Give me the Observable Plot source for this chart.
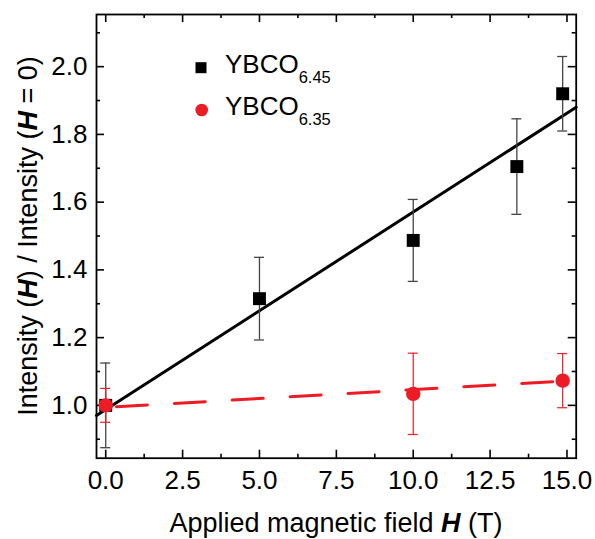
<!DOCTYPE html>
<html><head><meta charset="utf-8">
<script src="https://cdn.jsdelivr.net/npm/d3@7"></script>
<script src="https://cdn.jsdelivr.net/npm/@observablehq/plot@0.6"></script>
<style>body{margin:0;background:#fff} #chart{width:595px;height:539px}</style>
</head><body><div id="chart"></div>
<script>
// YBCO6.45 (black squares)
const field645 = [0, 5, 10, 13.37, 14.86];
const ratio645 = [1.0, 1.315, 1.487, 1.705, 1.920];
const err645 = [0.125, 0.122, 0.121, 0.141, 0.11];
// YBCO6.35 (red circles)
const field635 = [0, 10, 14.86];
const ratio635 = [1.0, 1.034, 1.073];
const err635 = [0.05, 0.12, 0.08];
// linear fits
const fit645X = [-0.3, 15.3];
const fit645Y = [0.97, 1.88];
const fit635X = [0, 15.3];
const fit635Y = [0.994, 1.074];
// ticks
const xTicks = [0, 2.5, 5, 7.5, 10, 12.5, 15];
const xMinor = [1.25, 3.75, 6.25, 8.75, 11.25, 13.75];
const yTicks = [1.0, 1.2, 1.4, 1.6, 1.8, 2.0];
const yMinor = [0.9, 1.1, 1.3, 1.5, 1.7, 1.9, 2.1];
const xDomain = [-0.3, 15.3];
const yDomain = [0.844, 2.154];
const seriesNames = ["YBCO", "YBCO"];
const seriesSubs = ["6.45", "6.35"];

const RED = "#ED1C24";
const FONT = "'Liberation Sans', Arial, sans-serif";

const d645 = field645.map((x, i) => ({x, y: ratio645[i], e: err645[i]}));
const d635 = field635.map((x, i) => ({x, y: ratio635[i], e: err635[i]}));
const f645 = fit645X.map((x, i) => ({x, y: fit645Y[i]}));
const f635 = fit635X.map((x, i) => ({x, y: fit635Y[i]}));

function tickSet(xs, ys, len) {
  const o = {stroke: "black", strokeWidth: 1.6};
  return [
    Plot.ruleX(xs, {x: d => d, y1: yDomain[0], y2: yDomain[0], insetTop: -len, ...o}),
    Plot.ruleX(xs, {x: d => d, y1: yDomain[1], y2: yDomain[1], insetBottom: -len, ...o}),
    Plot.ruleY(ys, {y: d => d, x1: xDomain[0], x2: xDomain[0], insetRight: -len, ...o}),
    Plot.ruleY(ys, {y: d => d, x1: xDomain[1], x2: xDomain[1], insetLeft: -len, ...o})
  ];
}

function errorBars(data, color, width) {
  return [
    Plot.ruleX(data, {x: "x", y1: d => d.y - d.e, y2: d => d.y + d.e, stroke: color, strokeWidth: width}),
    Plot.ruleY(data, {y: d => d.y + d.e, x1: "x", x2: "x", insetLeft: -5, insetRight: -5, stroke: color, strokeWidth: width}),
    Plot.ruleY(data, {y: d => d.y - d.e, x1: "x", x2: "x", insetLeft: -5, insetRight: -5, stroke: color, strokeWidth: width})
  ];
}

const plot = Plot.plot({
  width: 595, height: 539,
  marginLeft: 96, marginRight: 19.3, marginTop: 14, marginBottom: 81.3,
  style: {fontFamily: FONT, fontSize: "26px", background: "white", color: "black"},
  x: {domain: xDomain},
  y: {domain: yDomain},
  marks: [
    Plot.axisX({ticks: xTicks, tickSize: 0, tickPadding: 12, fontSize: 26, tickFormat: d3.format(".1f"), label: null}),
    Plot.axisY({ticks: yTicks, tickSize: 0, tickPadding: 9, fontSize: 26, tickFormat: d3.format(".1f"), label: null}),
    ...tickSet(xTicks, yTicks, 8),
    ...tickSet(xMinor, yMinor, 4),
    Plot.line(f645, {x: "x", y: "y", stroke: "black", strokeWidth: 3}),
    Plot.line(f635, {x: "x", y: "y", stroke: RED, strokeWidth: 3, strokeDasharray: "31,27", strokeDashoffset: -10.7}),
    ...errorBars(d645, "#444", 1.3),
    ...errorBars(d635, RED, 1.2),
    Plot.dot(d645, {x: "x", y: "y", symbol: "square", r: 7.3, fill: "black", stroke: null}),
    Plot.dot(d635, {x: "x", y: "y", r: 7.2, fill: RED, stroke: null}),
    Plot.frame({stroke: "black", strokeWidth: 1.8})
  ]
});

const svg = d3.select(plot);
// legend
const lg = svg.append("g").attr("font-family", FONT).attr("fill", "black").attr("text-anchor", "start");
lg.append("rect").attr("x", 201 - 5.5).attr("y", 67.7 - 5.5).attr("width", 11).attr("height", 11).attr("fill", "black");
lg.append("circle").attr("cx", 201.7).attr("cy", 110).attr("r", 6.3).attr("fill", RED);
[73.3, 115].forEach((yb, i) => {
  const t = lg.append("text").attr("x", 225).attr("y", yb).attr("font-size", 26).text(seriesNames[i]);
  t.append("tspan").attr("font-size", 16.5).attr("dy", 10).text(seriesSubs[i]);
});
// axis titles
const yt = svg.append("text").attr("font-family", FONT).attr("font-size", 27).attr("text-anchor", "middle")
  .attr("transform", "translate(37,236) rotate(-90)");
yt.append("tspan").text("Intensity (");
yt.append("tspan").attr("font-weight", "bold").attr("font-style", "italic").text("H");
yt.append("tspan").text(") / Intensity (");
yt.append("tspan").attr("font-weight", "bold").attr("font-style", "italic").text("H");
yt.append("tspan").text(" = 0)");
const xt = svg.append("text").attr("font-family", FONT).attr("font-size", 27).attr("text-anchor", "middle")
  .attr("x", 336).attr("y", 532);
xt.append("tspan").text("Applied magnetic field ");
xt.append("tspan").attr("font-weight", "bold").attr("font-style", "italic").text("H");
xt.append("tspan").text(" (T)");

document.getElementById("chart").appendChild(plot);
</script>
</body></html>
